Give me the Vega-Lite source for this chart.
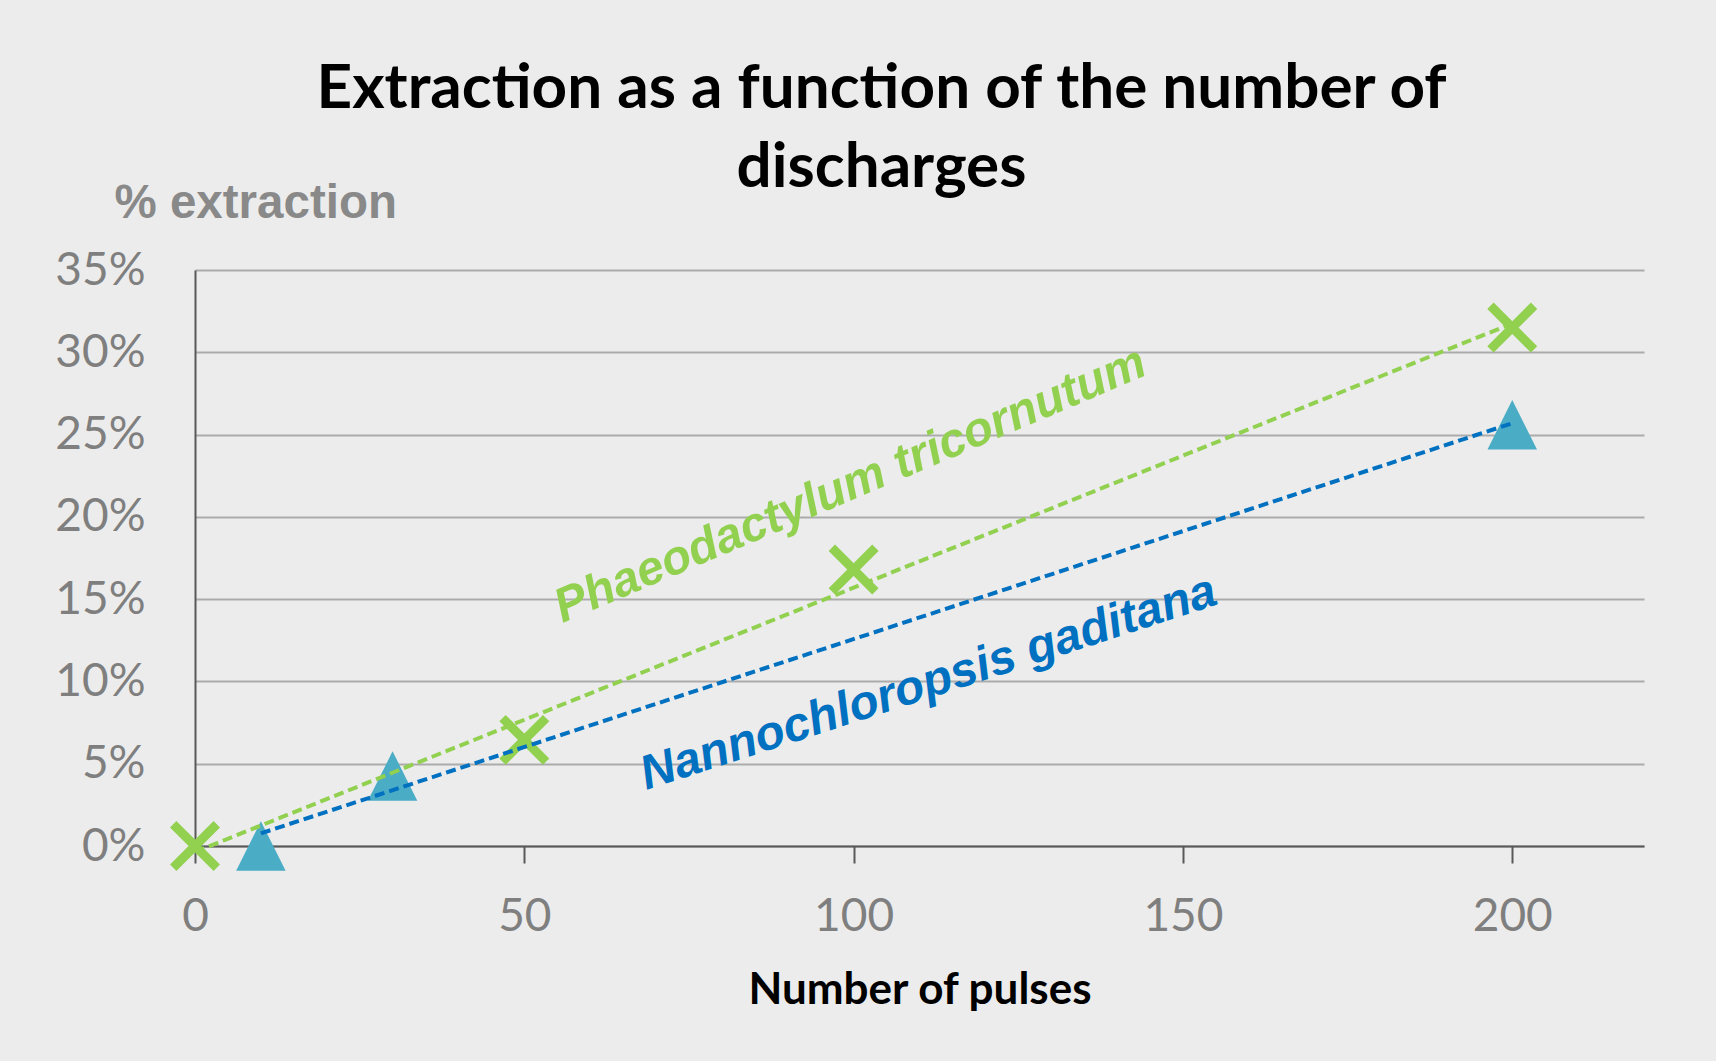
{
  "$schema": "https://vega.github.io/schema/vega-lite/v6.json",
  "width": 1449,
  "height": 576,
  "autosize": {"type": "none"},
  "padding": {"left": 195, "top": 270, "right": 72, "bottom": 215},
  "background": "#ececec",
  "title": {
    "text": ["Extraction as a function of the number of", "discharges"],
    "font": "Lato",
    "fontWeight": "bold",
    "fontSize": 62,
    "lineHeight": 79,
    "color": "#000000",
    "anchor": "middle",
    "dx": -38,
    "offset": -21
  },
  "datasets": {
    "points": [
      {"species": "Phaeodactylum tricornutum", "pulses": 0, "extraction": 0.0},
      {"species": "Phaeodactylum tricornutum", "pulses": 50, "extraction": 0.0645},
      {"species": "Phaeodactylum tricornutum", "pulses": 100, "extraction": 0.168},
      {"species": "Phaeodactylum tricornutum", "pulses": 200, "extraction": 0.315},
      {"species": "Nannochloropsis gaditana", "pulses": 10, "extraction": 0.0},
      {"species": "Nannochloropsis gaditana", "pulses": 30, "extraction": 0.0425},
      {"species": "Nannochloropsis gaditana", "pulses": 200, "extraction": 0.256}
    ],
    "labels": [
      {"species": "Phaeodactylum tricornutum", "label": "Phaeodactylum tricornutum", "pulses": 55.8, "extraction": 0.1355},
      {"species": "Nannochloropsis gaditana", "label": "Nannochloropsis gaditana", "pulses": 68.5, "extraction": 0.034}
    ]
  },
  "encoding": {
    "x": {
      "field": "pulses",
      "type": "quantitative",
      "scale": {"domain": [0, 220], "nice": false},
      "axis": {
        "values": [0, 50, 100, 150, 200],
        "grid": false,
        "domain": true,
        "domainColor": "#595959",
        "domainWidth": 2,
        "ticks": true,
        "tickSize": 17,
        "tickWidth": 2,
        "tickColor": "#595959",
        "labelFlush": false,
        "labelFont": "Lato",
        "labelFontSize": 46,
        "labelColor": "#7f7f7f",
        "labelPadding": 31,
        "title": "Number of pulses",
        "titleFont": "Lato",
        "titleFontWeight": "bold",
        "titleFontSize": 44,
        "titleColor": "#000000",
        "titleBaseline": "alphabetic",
        "titleY": 157
      }
    },
    "y": {
      "field": "extraction",
      "type": "quantitative",
      "scale": {"domain": [0, 0.35], "nice": false},
      "axis": {
        "values": [0, 0.05, 0.1, 0.15, 0.2, 0.25, 0.3, 0.35],
        "format": ".0%",
        "grid": true,
        "gridColor": "#ababab",
        "gridWidth": 2,
        "domain": true,
        "domainColor": "#595959",
        "domainWidth": 2,
        "ticks": false,
        "tickSize": 0,
        "labelFont": "Lato",
        "labelFontSize": 46,
        "labelColor": "#7f7f7f",
        "labelPadding": 50,
        "title": "% extraction",
        "titleFont": "Liberation Sans",
        "titleFontWeight": "bold",
        "titleFontSize": 47.5,
        "titleColor": "#898989",
        "titleAngle": 0,
        "titleAlign": "left",
        "titleBaseline": "alphabetic",
        "titleX": -81,
        "titleY": -53
      }
    }
  },
  "layer": [
    {
      "data": {"name": "points"},
      "transform": [{"filter": "datum.species === 'Nannochloropsis gaditana'"}],
      "mark": {"type": "point", "shape": "M0,-1L1,1L-1,1Z", "size": 2450, "filled": true, "fill": "#4BACC6", "opacity": 1, "strokeWidth": 0}
    },
    {
      "data": {"name": "points"},
      "transform": [{"filter": "datum.species === 'Phaeodactylum tricornutum'"}],
      "mark": {"type": "point", "shape": "M-1,-1L1,1M1,-1L-1,1", "size": 1900, "filled": false, "stroke": "#92D050", "strokeWidth": 9, "opacity": 1}
    },
    {
      "data": {"name": "points"},
      "transform": [
        {"filter": "datum.species === 'Phaeodactylum tricornutum'"},
        {"regression": "extraction", "on": "pulses"}
      ],
      "mark": {"type": "line", "stroke": "#92D050", "strokeWidth": 4, "strokeDash": [10, 5]}
    },
    {
      "data": {"name": "points"},
      "transform": [
        {"filter": "datum.species === 'Nannochloropsis gaditana'"},
        {"regression": "extraction", "on": "pulses"}
      ],
      "mark": {"type": "line", "stroke": "#0070C0", "strokeWidth": 4, "strokeDash": [10, 5]}
    },
    {
      "data": {"name": "labels"},
      "transform": [{"filter": "datum.species === 'Phaeodactylum tricornutum'"}],
      "mark": {"type": "text", "font": "Liberation Sans", "fontWeight": "bold", "fontStyle": "italic", "fontSize": 48, "color": "#92D050", "align": "left", "baseline": "alphabetic", "angle": -23},
      "encoding": {"text": {"field": "label"}}
    },
    {
      "data": {"name": "labels"},
      "transform": [{"filter": "datum.species === 'Nannochloropsis gaditana'"}],
      "mark": {"type": "text", "font": "Liberation Sans", "fontWeight": "bold", "fontStyle": "italic", "fontSize": 48, "color": "#0070C0", "align": "left", "baseline": "alphabetic", "angle": -18},
      "encoding": {"text": {"field": "label"}}
    }
  ],
  "config": {
    "view": {"stroke": null}
  }
}
